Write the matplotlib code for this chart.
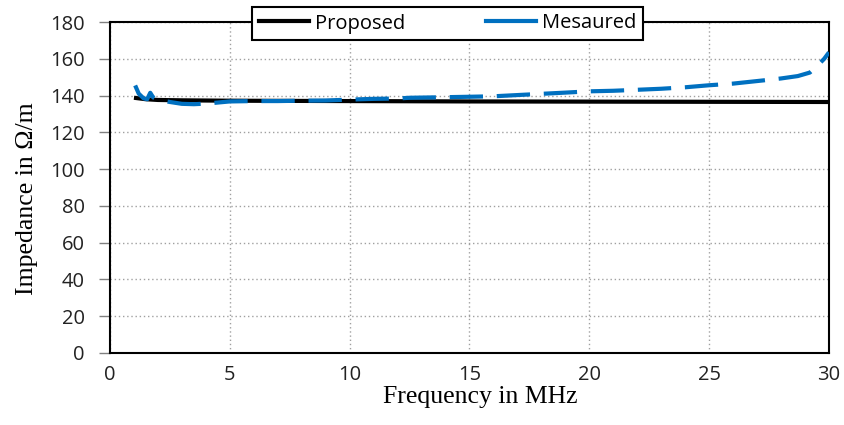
import matplotlib
matplotlib.use("Agg")
import matplotlib.pyplot as plt
from matplotlib.lines import Line2D

# Data
freq_proposed = [1.0, 1.5, 2.0, 3.0, 5.0, 10.0, 15.0, 20.0, 25.0, 30.0]
imp_proposed = [138.8, 138.0, 137.6, 137.4, 137.2, 137.0, 136.8, 136.7, 136.6, 136.5]

freq_measured = [1.05, 1.2, 1.4, 1.55, 1.68, 1.8, 2.0, 2.5, 3.0, 3.5, 4.0, 5.0, 6.0, 7.0,
                 8.0, 9.0, 10.0, 11.0, 12.0, 12.5, 13.5, 14.8, 16.0, 16.9, 18.4, 19.0,
                 20.0, 21.0, 21.75, 23.0, 24.0, 25.0, 26.0, 27.3, 28.0, 28.7, 29.2,
                 29.5, 29.8, 30.0]
imp_measured = [145.5, 141.0, 138.5, 138.0, 141.5, 139.0, 137.7, 136.5, 135.5, 135.3, 135.6,
                136.8, 137.0, 137.0, 137.2, 137.3, 137.8, 138.2, 138.4, 138.8, 139.0,
                139.3, 139.6, 140.2, 141.2, 141.6, 142.3, 142.6, 143.0, 143.7, 144.5,
                145.6, 146.5, 148.3, 149.3, 150.6, 152.5, 156.0, 160.0, 163.5]

x_ticks = [0, 5, 10, 15, 20, 25, 30]
y_ticks = [0, 20, 40, 60, 80, 100, 120, 140, 160, 180]

fig = plt.figure(figsize=(8.45, 4.25), dpi=100)
ax = fig.add_axes([110 / 845, 1 - 353 / 425, (829 - 110) / 845, (353 - 22) / 425])

ax.plot(freq_proposed, imp_proposed, color="black", lw=3, solid_capstyle="butt",
        label="Proposed", zorder=3)
ax.plot(freq_measured, imp_measured, color="#0070C0", lw=3, dashes=(8, 3.3),
        label="Mesaured", zorder=4)

ax.set_xlim(0, 30)
ax.set_ylim(0, 180)
ax.set_xticks(x_ticks)
ax.set_yticks(y_ticks)

ax.grid(True, color="#a0a0a0", linestyle=(0, (1, 2)), lw=1)
ax.set_axisbelow(True)
for s in ax.spines.values():
    s.set_color("black")
    s.set_linewidth(1.5)

ax.tick_params(axis="y", direction="out", length=8, width=1, color="#808080",
               labelsize=14.5, labelcolor="#222222", pad=10)
ax.tick_params(axis="x", length=0, labelsize=14.5, labelcolor="#222222", pad=9)
for lab in ax.get_xticklabels() + ax.get_yticklabels():
    lab.set_family("Open Sans")

ax.set_xlabel("Frequency in MHz", family="Liberation Serif", fontsize=18.5)
ax.set_ylabel("Impedance in Ω/m", family="Liberation Serif", fontsize=18.5)
ax.xaxis.set_label_coords(0.515, -0.1)
ax.yaxis.set_label_coords(-0.100, 0.465)

handles = [Line2D([0], [0], color="black", lw=3),
           Line2D([0], [0], color="#0070C0", lw=3)]
leg = fig.legend(handles, ["Proposed", "Mesaured"], loc="center",
                 bbox_to_anchor=((250 + 645) / 2 / 845, 1 - 23.5 / 425), ncol=2,
                 frameon=True, fancybox=False, edgecolor="black", framealpha=1,
                 prop={"family": "Open Sans", "size": 14.5}, handlelength=2.5,
                 handletextpad=0.3, columnspacing=4.0, borderpad=0.3)
leg.get_frame().set_linewidth(1.5)
leg.set_zorder(10)

fig.savefig("out.png", dpi=100)
